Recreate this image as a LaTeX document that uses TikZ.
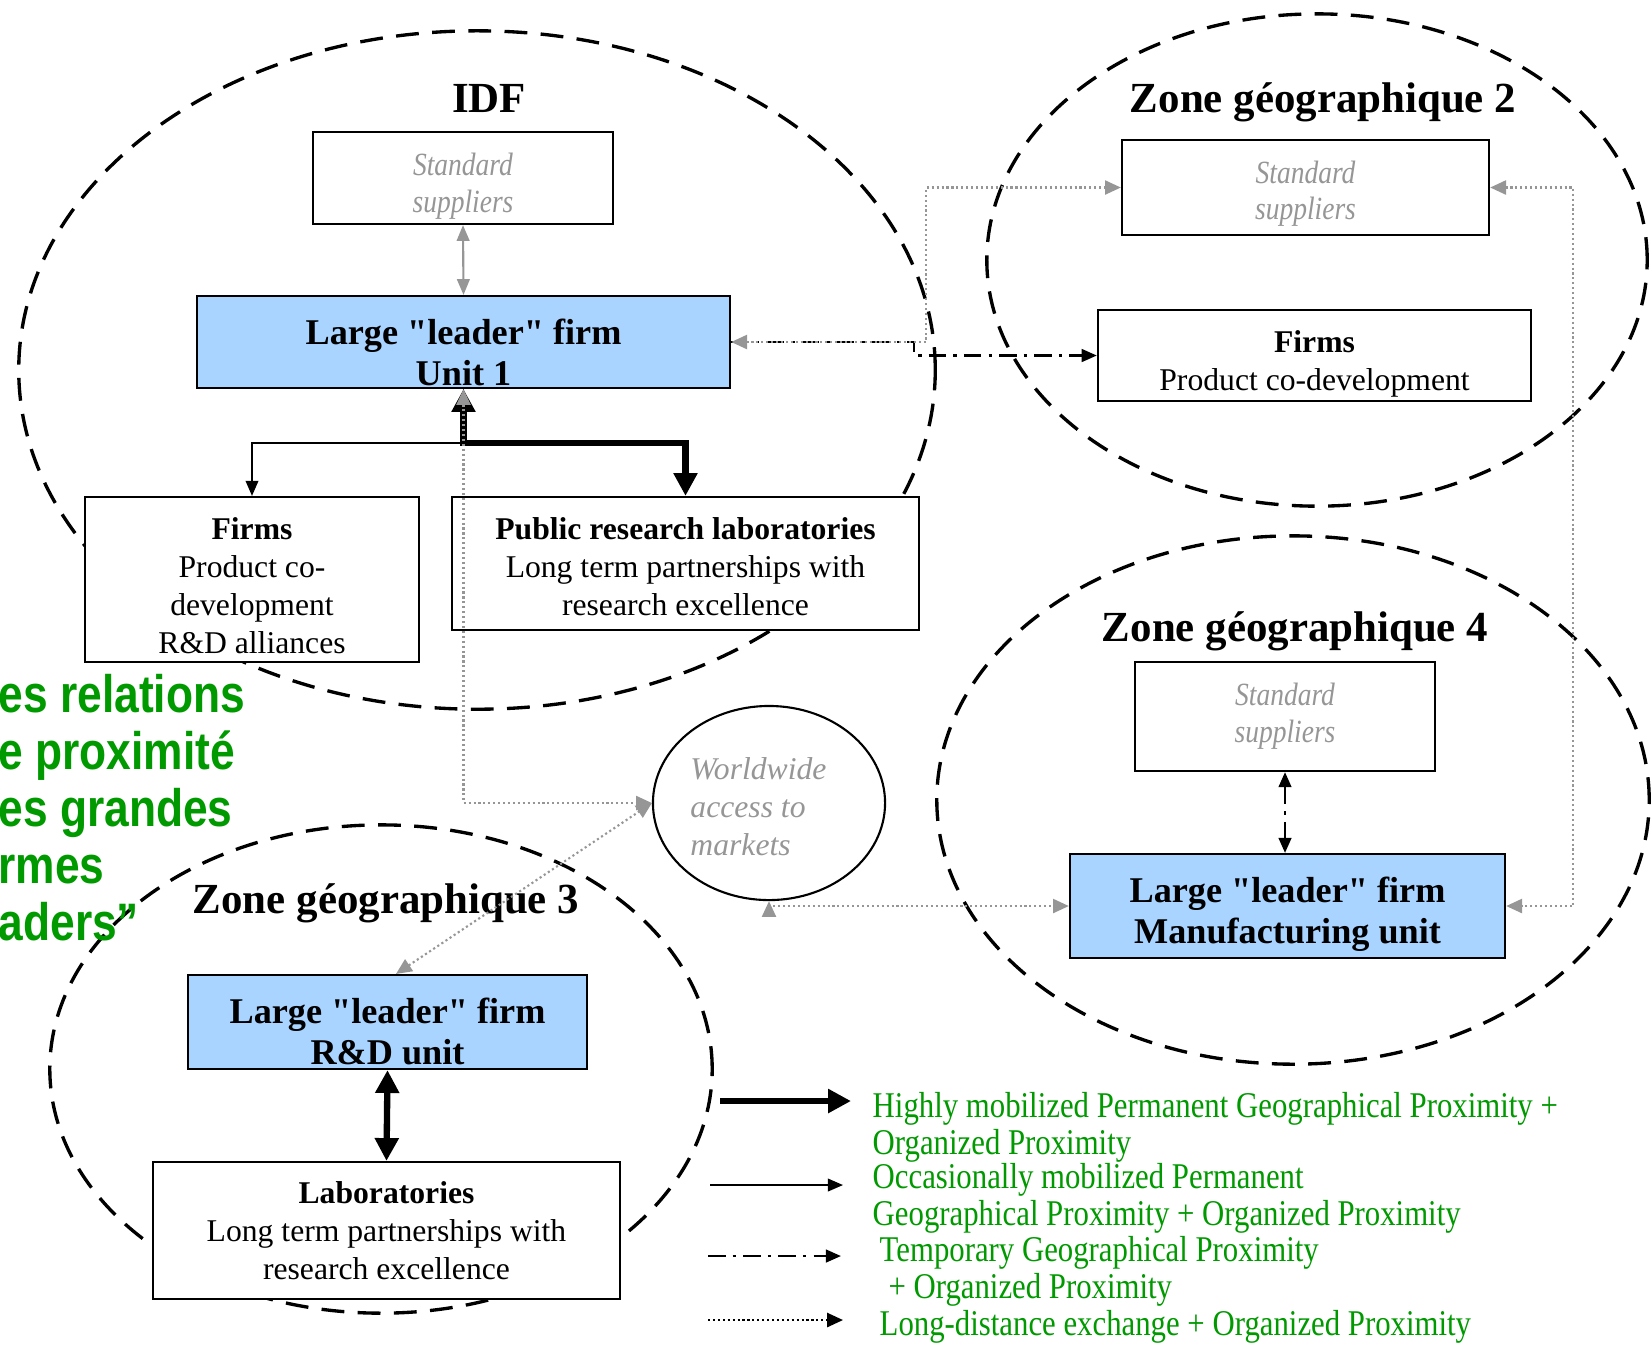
\documentclass[tikz,border=0pt]{standalone}
\usepackage{fontspec}
\setmainfont{Liberation Serif}
\newfontfamily\narrowserif{Liberation Serif}[FakeStretch=0.85]
\newfontfamily\slidesans{Liberation Sans}[FakeStretch=0.84]
\usetikzlibrary{arrows.meta,shapes.geometric}

\definecolor{leaderblue}{RGB}{168,212,255}
\definecolor{linkgrey}{RGB}{150,150,150}
\definecolor{slidegreen}{RGB}{0,153,0}

% pushes the text of a box down a little
\newcommand{\toppad}[1]{\rule{0pt}{#1}}

\begin{document}
\begin{tikzpicture}[x=0.01cm,y=-0.01cm,
	zone/.style={draw,ellipse,line width=0.95pt,dash pattern=on 6.5pt off 3.8pt,inner sep=0pt},
	box/.style={draw,fill=white,line width=0.6pt,align=center,inner sep=0pt,font=\fontsize{9}{10.8}\selectfont},
	leader/.style={box,fill=leaderblue,font=\fontsize{10.3}{11.7}\selectfont\bfseries},
	supp/.style={box,text=linkgrey,font=\narrowserif\fontsize{9.2}{10.5}\selectfont\itshape},
	title/.style={font=\fontsize{12.2}{14}\selectfont\bfseries},
	legend/.style={anchor=north west,inner sep=0pt,align=left,text=slidegreen,font=\narrowserif\fontsize{10.3}{10.3}\selectfont},
	high/.style={line width=1.8pt,>={Triangle[length=6.5pt,width=6.5pt]}},
	occ/.style={line width=0.5pt,>={Triangle[length=4.3pt,width=3.6pt]}},
	temp/.style={line width=0.7pt,dash pattern=on 5pt off 2pt on 1pt off 2pt,>={Triangle[length=4.3pt,width=3.6pt]}},
	longd/.style={linkgrey,line width=0.6pt,dash pattern=on 0.6pt off 0.8pt,>={Triangle[length=4.5pt,width=4pt]}},
	greylink/.style={linkgrey,line width=0.6pt,>={Triangle[length=4.5pt,width=3.6pt]}}]

	\useasboundingbox (0,0) rectangle (1652,1350);

	% geographical zones
	\node[zone,minimum width=9.16cm,minimum height=6.78cm] (idf) at (477,370) {};
	\node[zone,minimum width=6.6cm,minimum height=4.92cm] (zone2) at (1317,260) {};
	\node[zone,minimum width=7.12cm,minimum height=5.28cm] (zone4) at (1293,800) {};
	\node[zone,minimum width=6.62cm,minimum height=4.88cm] (zone3) at (381,1069) {};

	\node[title] (idft) at (489,98) {IDF};
	\node[title] (zone2t) at (1323,102) {Zone géographique 2};
	\node[title] (zone4t) at (1295,631) {Zone géographique 4};
	\node[title] (zone3t) at (386,903) {Zone géographique 3};

	% IDF
	\node[supp,minimum width=3cm,minimum height=0.92cm] (std1) at (463,178) {\toppad{11.1pt}Standard\\suppliers};
	\node[leader,minimum width=5.33cm,minimum height=0.92cm] (unit1) at (463.5,342) {\toppad{13pt}Large \textquotedbl leader\textquotedbl{} firm\\ Unit 1};
	\node[box,minimum width=3.34cm,minimum height=1.65cm] (firms1) at (252,579.5) {\toppad{9.7pt}\textbf{Firms}\\Product co-\\development\\R\&D alliances};
	\node[box,minimum width=4.67cm,minimum height=1.33cm] (labs1) at (685.5,563.5) {\toppad{7.9pt}\textbf{Public research laboratories}\\Long term partnerships with\\research excellence};

	% zone 2
	\node[supp,minimum width=3.67cm,minimum height=0.95cm] (std2) at (1305.5,187.5) {\toppad{9.9pt}Standard\\suppliers};
	\node[box,minimum width=4.33cm,minimum height=0.91cm] (firms2) at (1314.5,355.5) {\toppad{10.9pt}\textbf{Firms}\\Product co-development};

	% zone 4
	\node[supp,minimum width=3cm,minimum height=1.09cm] (std4) at (1285,716.5) {Standard\\suppliers};
	\node[leader,minimum width=4.35cm,minimum height=1.04cm] (manu4) at (1287.5,906) {\toppad{11.9pt}Large \textquotedbl leader\textquotedbl{} firm\\Manufacturing unit};

	% zone 3
	\node[leader,minimum width=3.99cm,minimum height=0.94cm] (rd3) at (387.5,1022) {\toppad{12.5pt}Large \textquotedbl leader\textquotedbl{} firm\\R\&D unit};
	\node[box,minimum width=4.67cm,minimum height=1.37cm] (labs3) at (386.5,1230.5) {\textbf{Laboratories}\\Long term partnerships with\\research excellence};

	\node[draw,ellipse,line width=0.6pt,minimum width=2.32cm,minimum height=1.94cm,align=left,inner sep=0pt,text=linkgrey,font=\fontsize{9}{10.8}\selectfont\itshape] (world) at (769,803) {\toppad{8.4pt}Worldwide\hspace*{6pt}\\access to\\markets};

	\node[anchor=north west,inner sep=0pt,align=left,text=slidegreen,font=\slidesans\bfseries\fontsize{15}{16.2}\selectfont] (slogan) at (-2,674) {es relations\\e proximité\\es grandes\\rmes\\aders”};

	% links
	\draw[greylink,<->] (std1.south) -- (unit1.north);
	\draw[temp,->] (unit1.east) -- ++(183,0) |- (firms2.west);
	\draw[longd,<->] (unit1.east) -- ++(195,0) |- (std2.west);
	\draw[longd,<->] (std2.east) -- ++(83,0) |- (manu4.east);
	\draw[occ,->] (unit1.south) -- ++(0,54) -| (firms1.north);
	\draw[high,<->] (unit1.south) -- ++(0,54) -| (labs1.north);
	\draw[longd,<->] (unit1.south) |- (world.west);
	\draw[longd,<->] (rd3.80) -- (world.west);
	\draw[longd,<->] (world.south) |- (manu4.west);
	\draw[temp,<->] (std4.south) -- (std4.south |- manu4.north);
	\draw[high,<->] (rd3.south) -- (labs3.north);

	% legend
	\coordinate (k1a) at (720,1101);
	\coordinate (k1b) at (851,1101);
	\coordinate (k2a) at (710,1185);
	\coordinate (k2b) at (843,1185);
	\coordinate (k3a) at (708,1256);
	\coordinate (k3b) at (841,1256);
	\coordinate (k4a) at (708,1320);
	\coordinate (k4b) at (843,1320);
	\draw[high,->] (k1a) -- (k1b);
	\draw[occ,->] (k2a) -- (k2b);
	\draw[temp,->] (k3a) -- (k3b);
	\draw[longd,black,->] (k4a) -- (k4b);

	\node[legend] (leg1) at (872,1092) {Highly mobilized Permanent Geographical Proximity +\\Organized Proximity};
	\node[legend] (leg2) at (872,1163) {Occasionally mobilized Permanent\\Geographical Proximity + Organized Proximity};
	\node[legend] (leg3) at (879,1236) {Temporary Geographical Proximity\\\hspace*{2.5pt}+ Organized Proximity};
	\node[legend] (leg4) at (879,1310) {Long-distance exchange + Organized Proximity};

\end{tikzpicture}
\end{document}
